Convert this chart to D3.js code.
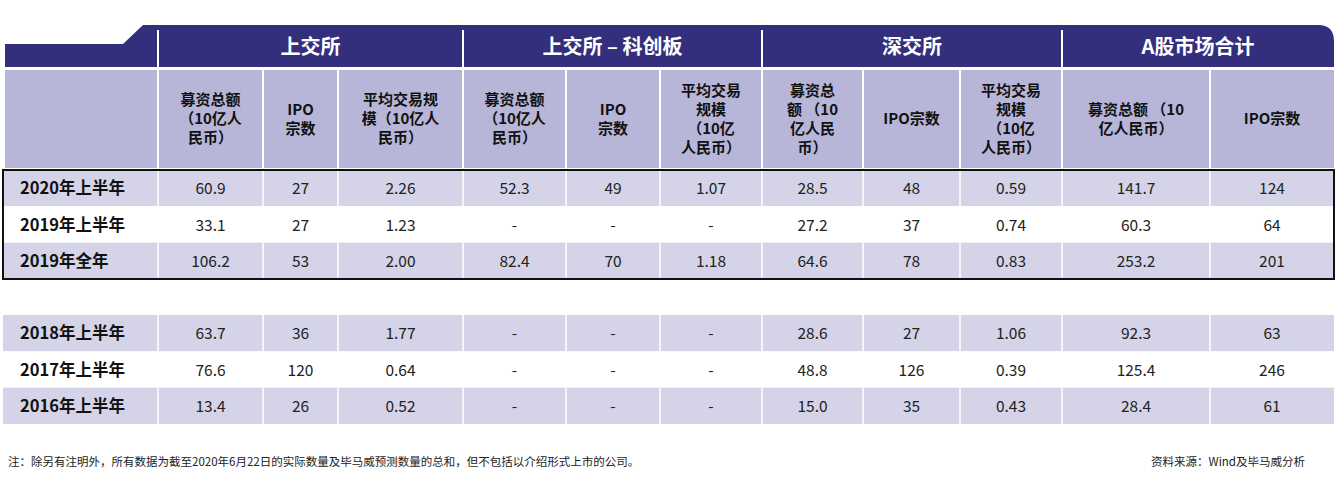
<!DOCTYPE html>
<html><head><meta charset="utf-8">
<script src="https://cdn.jsdelivr.net/npm/d3@7"></script>
<style>body{margin:0;background:#fff}text{font-family:"Noto Sans CJK SC","Noto Sans",sans-serif}</style>
</head><body><svg id="c" width="1339" height="483"></svg>
<script>
var groups = ["上交所", "上交所 – 科创板", "深交所", "A股市场合计"];
var groupSpans = [[1, 3], [4, 6], [7, 9], [10, 11]];
var colEdges = [3, 158, 263, 338, 463, 566, 660, 762, 863, 960, 1062, 1210, 1334];
var subHeads = [
  ["募资总额", "（10亿人", "民币）"], ["IPO", "宗数"], ["平均交易规", "模（10亿人", "民币）"],
  ["募资总额", "（10亿人", "民币）"], ["IPO", "宗数"], ["平均交易", "规模", "（10亿", "人民币）"],
  ["募资总", "额 （10", "亿人民", "币）"], ["IPO宗数"], ["平均交易", "规模", "（10亿", "人民币）"],
  ["募资总额 （10", "亿人民币）"], ["IPO宗数"]
];
var rowsA = ["2020年上半年", "2019年上半年", "2019年全年"];
var valsA = [
  ["60.9", "27", "2.26", "52.3", "49", "1.07", "28.5", "48", "0.59", "141.7", "124"],
  ["33.1", "27", "1.23", "-", "-", "-", "27.2", "37", "0.74", "60.3", "64"],
  ["106.2", "53", "2.00", "82.4", "70", "1.18", "64.6", "78", "0.83", "253.2", "201"]
];
var rowsB = ["2018年上半年", "2017年上半年", "2016年上半年"];
var valsB = [
  ["63.7", "36", "1.77", "-", "-", "-", "28.6", "27", "1.06", "92.3", "63"],
  ["76.6", "120", "0.64", "-", "-", "-", "48.8", "126", "0.39", "125.4", "246"],
  ["13.4", "26", "0.52", "-", "-", "-", "15.0", "35", "0.43", "28.4", "61"]
];
var navy = "#332f7c", lav = "#b8b6d8", light = "#d4d3e8";
var svg = d3.select("#c");
var yA = d3.scaleBand().domain(rowsA).range([170, 279]);
var yB = d3.scaleBand().domain(rowsB).range([315, 424]);

// top band with slanted left and rounded right
svg.append("path").attr("fill", navy)
  .attr("d", "M5,44 L123,44 L143,25 L1318,25 Q1334,25 1334,41 L1334,67 L5,67 Z");
svg.append("rect").attr("x", 5).attr("y", 70).attr("width", 1329).attr("height", 98).attr("fill", lav);
colEdges.slice(1, -1).forEach(function (e, i) {
  var isGroup = [0, 3, 6, 9].indexOf(i) >= 0;
  svg.append("line").attr("x1", e).attr("x2", e).attr("y1", isGroup ? 30 : 70).attr("y2", 168)
    .attr("stroke", "#fff").attr("stroke-width", 2);
});
groups.forEach(function (g, i) {
  var s = groupSpans[i];
  svg.append("text").attr("x", (colEdges[s[0]] + colEdges[s[1] + 1]) / 2).attr("y", 54)
    .attr("text-anchor", "middle").attr("fill", "#fff").attr("font-size", 20).attr("font-weight", "bold").text(g);
});
subHeads.forEach(function (lines, i) {
  var cx = (colEdges[i + 1] + colEdges[i + 2]) / 2, lh = 19;
  var y0 = 119 - (lines.length - 1) * lh / 2 + 5;
  lines.forEach(function (l, j) {
    svg.append("text").attr("x", cx).attr("y", y0 + j * lh).attr("text-anchor", "middle")
      .attr("font-size", 15).attr("font-weight", "bold").attr("fill", "#111").text(l);
  });
});

function block(rows, vals, y) {
  rows.forEach(function (r, i) {
    var top = y(r), h = y.bandwidth();
    svg.append("rect").attr("x", 3).attr("y", top).attr("width", 1331).attr("height", h)
      .attr("fill", i % 2 === 0 ? light : "#fff");
    if (i % 2 === 0) colEdges.slice(1, -1).forEach(function (e) {
      svg.append("line").attr("x1", e).attr("x2", e).attr("y1", top).attr("y2", top + h).attr("stroke", "#fff").attr("stroke-width", 1.5);
    });
    svg.append("text").attr("x", 20).attr("y", top + h / 2 + 6).attr("font-size", 16.5).attr("font-weight", "bold").attr("fill", "#111").text(r);
    vals[i].forEach(function (v, j) {
      svg.append("text").attr("x", (colEdges[j + 1] + colEdges[j + 2]) / 2).attr("y", top + h / 2 + 6)
        .attr("text-anchor", "middle").attr("font-size", 15.5).attr("fill", "#222").text(v);
    });
  });
}
block(rowsA, valsA, yA);
block(rowsB, valsB, yB);
svg.append("rect").attr("x", 3).attr("y", 170).attr("width", 1331).attr("height", 109)
  .attr("fill", "none").attr("stroke", "#111").attr("stroke-width", 2);

svg.append("text").attr("x", 8).attr("y", 466).attr("font-size", 11.5).attr("fill", "#222")
  .text("注：除另有注明外，所有数据为截至2020年6月22日的实际数量及毕马威预测数量的总和，但不包括以介绍形式上市的公司。");
svg.append("text").attr("x", 1305).attr("y", 466).attr("text-anchor", "end").attr("font-size", 11.5).attr("fill", "#222")
  .text("资料来源：Wind及毕马威分析");
</script></body></html>
